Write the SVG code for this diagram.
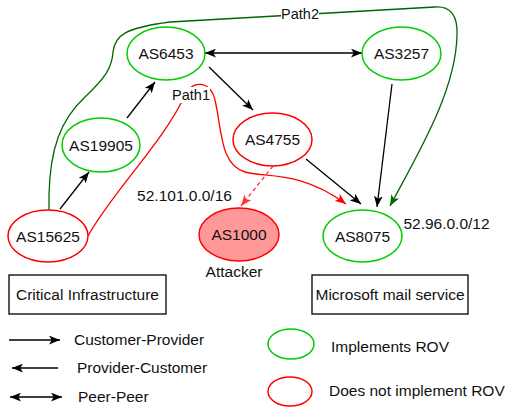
<svg xmlns="http://www.w3.org/2000/svg" width="508" height="407" viewBox="0 0 508 407">
<style>
text{font-family:"Liberation Sans",Arial,sans-serif;font-size:15.5px;fill:#111}
.g{fill:#fff;stroke:#00cc00;stroke-width:1.5}
.r{fill:#fff;stroke:#ff0000;stroke-width:1.5}
.e{fill:none;stroke:#000;stroke-width:1.3}
.c{text-anchor:middle}
</style>
<defs>
<marker id="ak" viewBox="0 0 10 8" refX="10" refY="4" markerWidth="11" markerHeight="9" markerUnits="userSpaceOnUse" orient="auto-start-reverse"><path d="M0,0 L10,4 L0,8 L2.5,4 Z" fill="#000"/></marker>
<marker id="ar" viewBox="0 0 10 8" refX="10" refY="4" markerWidth="11" markerHeight="9" markerUnits="userSpaceOnUse" orient="auto"><path d="M0,0 L10,4 L0,8 L2.5,4 Z" fill="#ff0000"/></marker>
<marker id="ar2" viewBox="0 0 10 8" refX="10" refY="4" markerWidth="11" markerHeight="9" markerUnits="userSpaceOnUse" orient="auto"><path d="M0,0 L10,4 L0,8 L2.5,4 Z" fill="#ff3333"/></marker>
<marker id="ag" viewBox="0 0 10 8" refX="10" refY="4" markerWidth="11" markerHeight="9" markerUnits="userSpaceOnUse" orient="auto"><path d="M0,0 L10,4 L0,8 L2.5,4 Z" fill="#006600"/></marker>
</defs>
<g id="connectors">
<path id="path2" d="M49,210 L49,195 C50,150 60,120 85,97 C105,78 112,68 113,52 C115,35 125,28 170,22 L435,7 C450,6 458,15 457,35 C456,90 420,150 390,206" fill="none" stroke="#006600" stroke-width="1.3" marker-end="url(#ag)"/>
<path id="path1" d="M88,236 C110,195 165,140 185,95 C192,80 210,80 215,100 C222,130 220,165 245,172 C265,178 300,170 346,204" fill="none" stroke="#ff0000" stroke-width="1.3" marker-end="url(#ar)"/>
<line x1="205" y1="53" x2="362" y2="53" class="e" marker-start="url(#ak)" marker-end="url(#ak)"/>
<line x1="127" y1="118" x2="155" y2="82" class="e" marker-end="url(#ak)"/>
<line x1="60" y1="209" x2="89" y2="172" class="e" marker-end="url(#ak)"/>
<line x1="209" y1="67" x2="253" y2="110" class="e" marker-end="url(#ak)"/>
<line x1="306" y1="159" x2="361" y2="204" class="e" marker-end="url(#ak)"/>
<line x1="392" y1="84" x2="377" y2="207" class="e" marker-end="url(#ak)"/>
<line x1="273" y1="166" x2="241" y2="206" fill="none" stroke="#ff3333" stroke-width="1.3" stroke-dasharray="4,3" marker-end="url(#ar2)"/>
<rect x="281" y="6" width="38" height="16" fill="#fff"/>
<text x="300" y="19" class="c" style="font-size:14.5px">Path2</text>
<rect x="172" y="87" width="38" height="16" fill="#fff"/>
<text x="191" y="99.5" class="c" style="font-size:14.5px">Path1</text>
</g>
<g id="AS6453"><ellipse cx="166" cy="53.5" rx="39" ry="26.5" class="g"/><text x="166" y="59" class="c">AS6453</text></g>
<g id="AS3257"><ellipse cx="401.5" cy="53.5" rx="39.5" ry="26.5" class="g"/><text x="401.5" y="59" class="c">AS3257</text></g>
<g id="AS19905"><ellipse cx="101" cy="145" rx="39" ry="27" class="g"/><text x="101" y="150.5" class="c">AS19905</text></g>
<g id="AS4755"><ellipse cx="272.5" cy="139.5" rx="39.5" ry="26.5" class="r"/><text x="272.5" y="145" class="c">AS4755</text></g>
<g id="AS15625"><ellipse cx="48" cy="236" rx="40" ry="26" class="r"/><text x="48" y="241.5" class="c">AS15625</text></g>
<g id="AS1000"><ellipse cx="239" cy="234.5" rx="40" ry="26.5" fill="#ff9999" stroke="#ff0000" stroke-width="1.5"/><text x="239" y="240" class="c">AS1000</text></g>
<g id="AS8075"><ellipse cx="362.5" cy="236" rx="39.5" ry="26" class="g"/><text x="362.5" y="241.5" class="c">AS8075</text></g>
<text x="184.5" y="200.5" class="c">52.101.0.0/16</text>
<text x="446.5" y="228.5" class="c">52.96.0.0/12</text>
<text x="234" y="276.5" class="c">Attacker</text>
<g id="critical"><rect x="9" y="275" width="157" height="39" fill="#fff" stroke="#000" stroke-width="1.3"/><text x="87.5" y="300" class="c">Critical Infrastructure</text></g>
<g id="microsoft"><rect x="312" y="275" width="156" height="39" fill="#fff" stroke="#000" stroke-width="1.3"/><text x="390" y="300" class="c">Microsoft mail service</text></g>
<g id="legend">
<line x1="9" y1="340" x2="60" y2="340" stroke="#000" stroke-width="1.5" marker-end="url(#ak)"/>
<text x="74" y="344.5">Customer-Provider</text>
<line x1="58" y1="368" x2="12" y2="368" stroke="#000" stroke-width="1.5" marker-end="url(#ak)"/>
<text x="77" y="372.5">Provider-Customer</text>
<line x1="10" y1="397" x2="62" y2="397" stroke="#000" stroke-width="1.5" marker-start="url(#ak)" marker-end="url(#ak)"/>
<text x="78" y="401.5">Peer-Peer</text>
<ellipse cx="291" cy="344" rx="23" ry="15" class="g"/>
<text x="331" y="352">Implements ROV</text>
<ellipse cx="290" cy="391.5" rx="22" ry="14.5" class="r"/>
<text x="329" y="396">Does not implement ROV</text>
</g>
</svg>
